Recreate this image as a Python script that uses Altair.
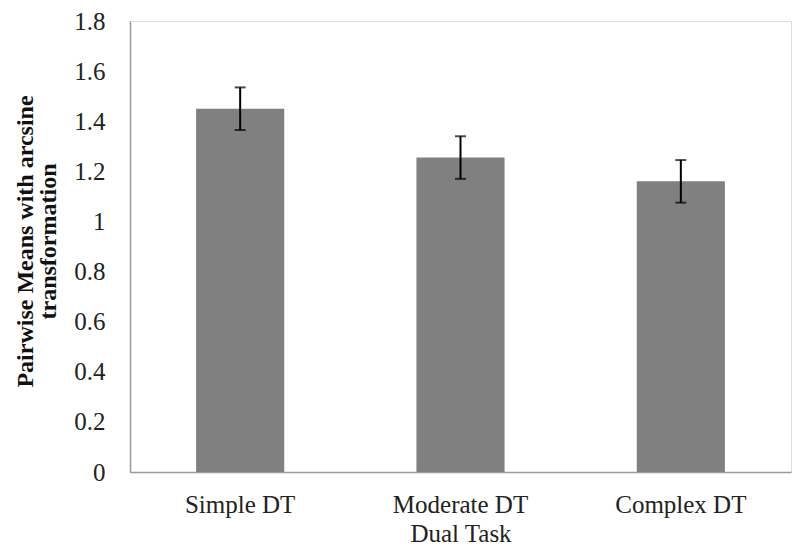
import altair as alt
import pandas as pd

categories = ["Simple DT", "Moderate DT", "Complex DT"]
means = [1.45, 1.255, 1.16]
errors = [0.085, 0.085, 0.085]

df = pd.DataFrame({
    "task": categories,
    "mean": means,
    "lo": [m - e for m, e in zip(means, errors)],
    "hi": [m + e for m, e in zip(means, errors)],
})

FONT = "Liberation Serif"
FS = 25

x_enc = alt.X(
    "task:N",
    sort=categories,
    scale=alt.Scale(paddingInner=0.6, paddingOuter=0.3),
    axis=alt.Axis(
        title="Dual Task",
        labelAngle=0,
        labelFontSize=FS,
        labelFont=FONT,
        labelColor="#222222",
        labelPadding=20,
        titleFontSize=FS,
        titleFont=FONT,
        titleFontWeight="normal",
        titleColor="#222222",
        titlePadding=4,
        ticks=False,
        domainColor="#9a9a9a",
        domainWidth=1.5,
    ),
)

y_scale = alt.Scale(domain=[0, 1.8], nice=False)

bars = alt.Chart(df).mark_bar(color="#808080").encode(
    x=x_enc,
    y=alt.Y(
        "mean:Q",
        scale=y_scale,
        axis=alt.Axis(
            values=[0, 0.2, 0.4, 0.6, 0.8, 1, 1.2, 1.4, 1.6, 1.8],
            labelExpr="datum.value == 0 ? '0' : (datum.value == 1 ? '1' : format(datum.value, '.1f'))",
            title=["Pairwise Means with arcsine", "transformation"],
            titleAngle=-90,
            titleFontSize=24,
            titleFont=FONT,
            titleFontWeight="bold",
            titleColor="#111111",
            titleX=-117,
            titleY=220,
            titleAlign="center",
            titleBaseline="top",
            titleLineHeight=23,
            labelFontSize=FS,
            labelFont=FONT,
            labelColor="#222222",
            labelPadding=25,
            labelOverlap=False,
            ticks=False,
            grid=False,
            domainColor="#9a9a9a",
            domainWidth=1.5,
        ),
    ),
)

rules = alt.Chart(df).mark_rule(color="black", strokeWidth=2).encode(
    x=alt.X("task:N", sort=categories),
    y=alt.Y("lo:Q", scale=y_scale),
    y2="hi:Q",
)

caps_hi = alt.Chart(df).mark_tick(color="black", thickness=2, size=11, orient="horizontal").encode(
    x=alt.X("task:N", sort=categories),
    y=alt.Y("hi:Q", scale=y_scale),
)
caps_lo = alt.Chart(df).mark_tick(color="black", thickness=2, size=11, orient="horizontal").encode(
    x=alt.X("task:N", sort=categories),
    y=alt.Y("lo:Q", scale=y_scale),
)

chart = alt.layer(bars, rules, caps_hi, caps_lo).properties(
    width=661,
    height=451,
    autosize=alt.AutoSizeParams(type="none"),
    padding={"left": 122, "top": 13, "right": 1, "bottom": 80},
).configure_view(stroke=None).configure(background="white")

chart.save("out.html", embed_options={"renderer": "svg", "actions": False})
